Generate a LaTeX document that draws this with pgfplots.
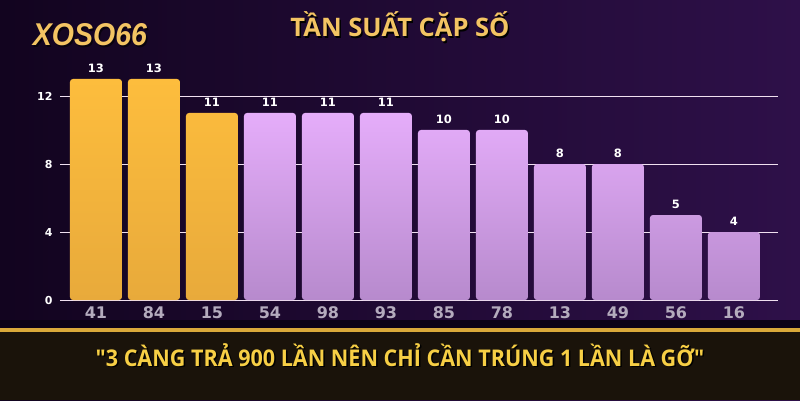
\documentclass[border=0pt]{standalone}
\usepackage{pgfplots}
\pgfplotsset{compat=1.18}
\usepackage{fontspec}
\setmainfont{DejaVu Sans}
\newfontfamily\titlefont{Open Sans}
\newfontfamily\logofont{Liberation Sans}
\definecolor{bgL}{HTML}{12041F}
\definecolor{bgR}{HTML}{2E1049}
\definecolor{band}{HTML}{1A130A}
\definecolor{goldline}{HTML}{D9A93A}
\definecolor{goldT}{HTML}{FDBD3D}
\definecolor{goldB}{HTML}{E8AA3B}
\definecolor{lavT}{HTML}{E5ADFA}
\definecolor{lavB}{HTML}{B78ACD}
\definecolor{titlegold}{HTML}{F3C463}
\definecolor{quote}{HTML}{F7CF45}
\definecolor{xlab}{HTML}{B4ABBD}
\begin{document}
\begin{tikzpicture}[x=1pt,y=1pt]
\shade[left color=bgL, right color=bgR] (0,0) rectangle (800,400);
\fill[bgL!70!black] (0,68) rectangle (800,80);
\fill[band] (0,0) rectangle (800,68);
\fill[goldline] (0,68) rectangle (800,72);
% logo
\node[font=\logofont\bfseries\itshape\fontsize{30}{30}\selectfont, text=black, opacity=0.6] at (91.5,363.5) {\scalebox{0.95}[1.05]{XOSO66}};
\node[font=\logofont\bfseries\itshape\fontsize{30}{30}\selectfont, text=titlegold] at (90,365) {\scalebox{0.95}[1.05]{XOSO66}};
% title
\node[font=\titlefont\bfseries\fontsize{25.5}{25.5}\selectfont, text=black] at (401.5,371.5) {TẦN SUẤT CẶP SỐ};
\node[font=\titlefont\bfseries\fontsize{25.5}{25.5}\selectfont, text=titlegold] at (400,373) {TẦN SUẤT CẶP SỐ};
% bottom text
\node[font=\titlefont\bfseries\fontsize{23}{23}\selectfont, text=black] at (401.5,43.5) {\scalebox{0.937}[1]{"3 CÀNG TRẢ 900 LẦN NÊN CHỈ CẦN TRÚNG 1 LẦN LÀ GỠ"}};
\node[font=\titlefont\bfseries\fontsize{23}{23}\selectfont, text=quote] at (400,45) {\scalebox{0.937}[1]{"3 CÀNG TRẢ 900 LẦN NÊN CHỈ CẦN TRÚNG 1 LẦN LÀ GỠ"}};
\begin{axis}[
  at={(60pt,100pt)}, anchor=south west,
  scale only axis, width=718pt, height=229.5pt,
  xmin=-0.62, xmax=11.76, ymin=0, ymax=13.5,
  axis line style={draw=none},
  major tick length=0pt,
  ymajorgrids, grid style={draw=white!88!violet, line width=0.8pt},
  ytick={0,4,8,12},
  xtick={0,...,11},
  xticklabels={41,84,15,54,98,93,85,78,13,49,56,16},
  /pgf/number format/assume math mode=true,
  yticklabel style={font=\bfseries\fontsize{11}{11}\selectfont, text=white, xshift=-4pt},
  xticklabel style={font=\bfseries\fontsize{16}{16}\selectfont, text=xlab, yshift=-3.5pt},
  clip=false,
  nodes near coords,
  every node near coord/.append style={font=\bfseries\fontsize{11.5}{11.5}\selectfont, text=white, inner sep=0pt, yshift=6pt, anchor=south},
]
\addplot[ybar, bar width=52pt, bar shift=0pt, draw=none, top color=goldT, bottom color=goldB, rounded corners=3pt]
  coordinates {(0,13) (1,13) (2,11)};
\addplot[ybar, bar width=52pt, bar shift=0pt, draw=none, top color=lavT, bottom color=lavB, rounded corners=3pt]
  coordinates {(3,11) (4,11) (5,11) (6,10) (7,10) (8,8) (9,8) (10,5) (11,4)};
\end{axis}
\end{tikzpicture}
\end{document}
